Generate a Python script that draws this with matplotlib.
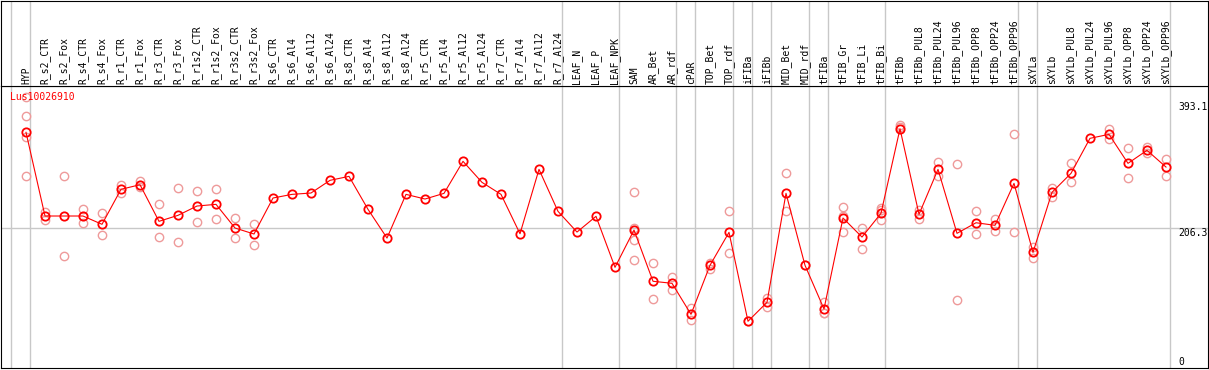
import numpy as np
import matplotlib
matplotlib.use('Agg')
import matplotlib.pyplot as plt

labels = ['HYP', 'R_s2_CTR', 'R_s2_Fox', 'R_s4_CTR', 'R_s4_Fox', 'R_r1_CTR', 'R_r1_Fox',
          'R_r3_CTR', 'R_r3_Fox', 'R_r1s2_CTR', 'R_r1s2_Fox', 'R_r3s2_CTR', 'R_r3s2_Fox',
          'R_s6_CTR', 'R_s6_Al4', 'R_s6_Al12', 'R_s6_Al24', 'R_s8_CTR', 'R_s8_Al4',
          'R_s8_Al12', 'R_s8_Al24', 'R_r5_CTR', 'R_r5_Al4', 'R_r5_Al12', 'R_r5_Al24',
          'R_r7_CTR', 'R_r7_Al4', 'R_r7_Al12', 'R_r7_Al24', 'LEAF_N', 'LEAF_P', 'LEAF_NPK',
          'SAM', 'AR_Bet', 'AR_rdf', 'cPAR', 'TOP_Bet', 'TOP_rdf', 'iFIBa', 'iFIBb',
          'MID_Bet', 'MID_rdf', 'tFIBa', 'tFIB_Gr', 'tFIB_Li', 'tFIB_Bi', 'tFIBb',
          'tFIBb_PUL8', 'tFIBb_PUL24', 'tFIBb_PUL96', 'tFIBb_OPP8', 'tFIBb_OPP24',
          'tFIBb_OPP96', 'sXYLa', 'sXYLb', 'sXYLb_PUL8', 'sXYLb_PUL24', 'sXYLb_PUL96',
          'sXYLb_OPP8', 'sXYLb_OPP24', 'sXYLb_OPP96']

means = [348.3, 224.2, 224.2, 224.2, 211.9, 263.8, 270.6, 216.3, 225.2, 239.0, 241.5,
         206.4, 197.5, 250.9, 256.3, 258.3, 277.1, 283.0, 234.1, 191.5, 256.3, 249.4,
         257.8, 305.3, 274.1, 256.3, 197.9, 293.4, 231.1, 200.4, 223.7, 148.1,
         203.4, 127.4, 124.4, 78.4, 151.1, 200.0, 68.1, 96.2, 257.8, 151.1, 86.3,
         221.2, 193.0, 228.2, 353.6, 226.7, 293.4, 198.5, 214.2, 210.4, 272.6,
         170.3, 259.3, 287.5, 339.4, 345.3, 302.3, 321.6, 296.8]

reps = [[400.6, 372.4, 340.8, 283.0], [230.5, 217.8], [283.0, 164.9], [234.5, 213.3],
        [228.2, 195.6], [269.7, 257.8], [275.6, 267.6], [241.5, 193.0], [265.2, 185.2],
        [260.8, 214.8], [264.2, 219.7], [221.2, 191.1], [211.9, 180.7],
        [], [], [], [], [], [], [], [], [], [], [], [], [], [], [], [], [], [], [],
        [259.3, 206.8, 189.0, 158.5], [154.0, 101.1], [133.7, 114.0], [88.2, 70.4],
        [154.9, 146.0], [231.1, 168.9], [69.0], [103.0, 89.7], [287.9, 231.1], [152.0],
        [97.1, 79.9, 81.0], [237.5, 224.2, 200.9], [206.4, 174.8], [236.0, 233.1, 218.7],
        [359.1, 356.6], [233.1, 220.2], [303.8, 283.5], [301.3, 99.6], [231.1, 197.9],
        [220.2, 201.5], [345.3, 200.0], [178.7, 162.3], [265.2, 252.8], [302.3, 274.1],
        [], [353.1, 338.8], [324.5, 280.1], [326.9, 317.1], [308.2, 283.5]]

gene = 'Lus10026910'
ref_value = 206.3
max_value = 393.1
# columns after which a grey separator is drawn (-1 = left edge)
separators = [-1, 0, 28, 31, 34, 35, 37, 38, 39, 41, 42, 45, 52, 53, 60]

plt.rcParams['font.family'] = ['DejaVu Sans Mono']
W, H = 1209, 370
fig = plt.figure(figsize=(W / 100, H / 100), dpi=100)

left, right = 1 / W, 1208 / W
ax = fig.add_axes([left, (H - 368) / H, right - left, (368 - 86) / H])
hx = fig.add_axes([left, (H - 86) / H, right - left, 85.5 / H])

x = np.arange(len(labels))
xlim = (-25 / 19, (1208 - 26) / 19)
grey = '#c8c8c8'

for a in (ax, hx):
    a.set_xlim(*xlim)
    a.set_xticks([])
    a.set_yticks([])
    for s in a.spines.values():
        s.set_color('black')
        s.set_linewidth(0.8)
    for p in separators:
        a.axvline(p + 0.21, color=grey, lw=1.0, zorder=0)

ax.set_ylim(-1.2, 417)
ax.axhline(ref_value, color=grey, lw=1.0, zorder=0)

rx, ry = [], []
for i, r in enumerate(reps):
    for v in r:
        rx.append(i)
        ry.append(v)
ax.plot(rx, ry, 'o', ms=6, mfc='none', mec='#ee9a9a', mew=1.0, zorder=2)
ax.plot(x, means, '-', color='red', lw=0.8, zorder=3)
ax.plot(x, means, 'o', ms=6, mfc='none', mec='red', mew=1.3, zorder=4)

ax.text(-0.84, 400.6, gene, color='red', fontsize=7, ha='left', va='center', zorder=5)
tx = (1178 - 26) / 19
ax.text(tx, max_value, '393.1', fontsize=7, ha='left', va='top')
ax.text(tx, ref_value, '206.3', fontsize=7, ha='left', va='top')
ax.text(tx, 1, '0', fontsize=7, ha='left', va='bottom')

hx.set_ylim(0, 1)
for i, lab in enumerate(labels):
    hx.text(i, 0.025, lab, rotation=90, fontsize=7, ha='center', va='bottom')

fig.savefig('out.png', dpi=100)
